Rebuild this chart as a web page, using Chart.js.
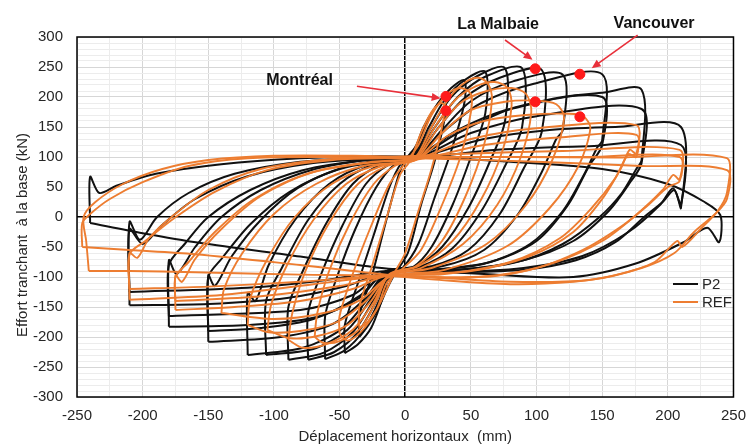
<!DOCTYPE html>
<html>
<head>
<meta charset="utf-8">
<script src="https://cdn.jsdelivr.net/npm/chart.js@4.4.1/dist/chart.umd.min.js"></script>
<style>
html, body { margin: 0; padding: 0; background: #fff; }
</style>
</head>
<body>
<canvas id="myChart" width="756" height="447"></canvas>
<script>
// axes
const X_MIN = -250, X_MAX = 250;
const Y_MIN = -300, Y_MAX = 300;

// P2 loops (black), [x mm, y kN]
const p2Loop30  = [[-35,-200],[-35,-165],[-25,-95],[-15,-10],[-5,70],[0,95],[8,118],[14,150],[22,180],[30,200],[30,165],[22,90],[12,20],[2,-60],[-8,-95],[-14,-120],[-20,-150],[-28,-180],[-35,-200]];
const p2Loop45  = [[-46,-227],[-46,-180],[-36,-110],[-24,-30],[-12,50],[-3,90],[8,112],[15,150],[25,190],[35,215],[45,228],[45,190],[35,110],[22,30],[10,-45],[-2,-85],[-12,-100],[-18,-140],[-26,-185],[-36,-212],[-46,-227]];
const p2Loop61  = [[-61,-237],[-61,-165],[-52,-100],[-38,-20],[-22,50],[-8,88],[8,108],[18,150],[30,195],[45,228],[61,242],[61,173],[50,100],[36,20],[20,-50],[5,-85],[-12,-95],[-20,-140],[-32,-190],[-46,-222],[-61,-237]];
const p2Loop76  = [[-74,-238],[-74,-160],[-64,-95],[-48,-15],[-30,55],[-12,88],[8,105],[20,150],[35,200],[55,235],[76,248],[76,160],[64,90],[48,15],[28,-50],[8,-82],[-12,-92],[-22,-140],[-36,-192],[-54,-225],[-74,-238]];
const p2Loop89  = [[-89,-238],[-89,-150],[-78,-90],[-60,-10],[-40,55],[-18,88],[8,103],[22,148],[40,200],[62,235],[89,248],[89,150],[76,85],[58,10],[36,-52],[12,-82],[-12,-90],[-24,-138],[-40,-192],[-62,-226],[-89,-238]];
const p2Loop104 = [[-106,-230],[-106,-140],[-94,-85],[-74,-5],[-50,55],[-24,88],[8,102],[25,148],[45,198],[72,232],[104,245],[104,142],[90,80],[72,5],[48,-55],[20,-82],[-12,-90],[-26,-136],[-44,-188],[-70,-220],[-106,-230]];
const p2Loop120 = [[-120,-230],[-120,-127],[-114,-140],[-104,-80],[-84,-5],[-58,55],[-28,88],[8,100],[28,145],[50,193],[82,226],[120,237],[120,145],[115,130],[104,75],[86,5],[60,-55],[28,-82],[-12,-90],[-28,-135],[-48,-186],[-78,-218],[-120,-230]];
const p2Loop150 = [[-150,-208],[-150,-97],[-145,-115],[-132,-65],[-110,-5],[-82,48],[-48,82],[-14,97],[10,105],[32,148],[58,190],[98,222],[150,238],[150,128],[146,115],[136,70],[120,10],[95,-45],[60,-78],[20,-88],[-14,-92],[-30,-135],[-55,-178],[-95,-200],[-150,-208]];
const p2Loop150b = [[-150,-190],[-150,-100],[-140,-70],[-118,-12],[-88,42],[-50,80],[-12,95],[12,105],[40,145],[80,180],[150,200],[150,120],[140,85],[124,20],[100,-40],[65,-75],[20,-88],[-14,-90],[-35,-132],[-70,-170],[-110,-185],[-150,-190]];
const p2Loop180 = [[-180,-183],[-180,-72],[-174,-95],[-160,-50],[-140,0],[-110,45],[-72,78],[-30,95],[10,102],[40,140],[80,180],[120,200],[150,207],[180,212],[180,95],[176,80],[165,40],[148,0],[120,-45],[85,-75],[40,-88],[-14,-90],[-35,-135],[-70,-168],[-120,-180],[-180,-183]];
const p2Loop180b = [[-180,-165],[-180,-80],[-168,-45],[-150,0],[-118,45],[-78,78],[-30,95],[10,100],[50,140],[100,168],[180,180],[180,90],[172,60],[155,10],[128,-40],[90,-72],[40,-88],[-14,-90],[-40,-130],[-80,-155],[-180,-165]];
const p2Loop210 = [[-210,-147],[-210,-8],[-202,-38],[-189,0],[-165,40],[-130,72],[-80,92],[-30,98],[10,100],[60,130],[110,145],[160,150],[210,150],[210,15],[205,45],[196,25],[182,0],[160,-42],[130,-72],[90,-88],[40,-92],[-14,-92],[-45,-115],[-90,-135],[-150,-145],[-210,-147]];
const p2Loop210b = [[-210,-125],[-210,-20],[-200,-45],[-186,-15],[-160,30],[-120,68],[-70,90],[-20,97],[10,98],[70,112],[140,118],[210,120],[210,20],[204,48],[194,20],[170,-25],[135,-65],[90,-85],[30,-92],[-14,-90],[-60,-105],[-120,-118],[-210,-125]];
const p2Loop240 = [[-240,-10],[-240,67],[-233,40],[-220,52],[-190,72],[-140,88],[-80,98],[-30,101],[10,100],[80,92],[150,80],[200,55],[228,25],[240,3],[239,-42],[230,-18],[212,-42],[175,-78],[128,-100],[60,-95],[0,-88],[-22,-84],[-80,-66],[-157,-43],[-200,-27],[-240,-10]];

// REF loops (orange)
const refLoop30  = [[-35,-185],[-35,-150],[-25,-80],[-14,0],[-4,70],[4,95],[12,140],[20,175],[27,190],[30,185],[28,150],[20,80],[10,10],[0,-60],[-8,-92],[-14,-120],[-22,-155],[-30,-178],[-35,-185]];
const refLoop50  = [[-50,-195],[-50,-165],[-40,-95],[-26,-15],[-12,55],[0,90],[10,120],[20,170],[32,205],[42,215],[50,205],[50,175],[42,100],[28,20],[12,-55],[-4,-90],[-14,-110],[-22,-155],[-34,-192],[-44,-206],[-50,-195]];
const refLoop65  = [[-69,-200],[-67,-160],[-58,-90],[-42,-10],[-24,55],[-8,85],[8,100],[20,150],[34,200],[46,225],[56,232],[63,222],[66,195],[60,120],[46,35],[28,-40],[8,-82],[-12,-95],[-22,-140],[-34,-185],[-50,-207],[-62,-210],[-69,-200]];
const refLoop80  = [[-89,-205],[-86,-160],[-76,-90],[-58,-10],[-36,55],[-14,85],[8,98],[22,148],[38,195],[54,218],[68,225],[78,215],[81,185],[74,110],[58,30],[36,-40],[10,-82],[-12,-96],[-24,-142],[-40,-188],[-60,-212],[-78,-218],[-89,-205]];
const refLoop95  = [[-105,-188],[-102,-145],[-90,-80],[-70,-5],[-45,55],[-18,85],[8,96],[24,145],[42,190],[62,210],[81,215],[92,205],[96,175],[88,100],[70,20],[44,-45],[12,-85],[-12,-97],[-26,-140],[-44,-180],[-66,-198],[-88,-202],[-105,-188]];
const refLoop120 = [[-120,-180],[-118,-135],[-105,-70],[-84,0],[-56,55],[-24,85],[8,95],[28,140],[50,178],[76,192],[99,194],[115,188],[121,165],[112,95],[92,20],[62,-45],[20,-85],[-12,-98],[-30,-140],[-52,-175],[-80,-190],[-104,-192],[-120,-180]];
const refLoop140 = [[-140,-160],[-138,-120],[-124,-60],[-100,5],[-68,55],[-32,85],[8,95],[32,135],[60,160],[92,170],[125,172],[136,167],[141,148],[132,85],[110,15],[78,-48],[30,-88],[-12,-100],[-34,-138],[-62,-160],[-100,-170],[-140,-160]];
const refLoop176 = [[-175,-155],[-175,-97],[-170,-108],[-160,-70],[-140,-20],[-110,35],[-70,75],[-25,92],[10,98],[50,130],[100,148],[176,153],[176,105],[171,112],[164,80],[150,30],[128,-25],[95,-65],[50,-90],[-14,-98],[-40,-120],[-80,-140],[-130,-150],[-175,-155]];
const refLoop176b = [[-175,-140],[-175,-100],[-165,-75],[-145,-25],[-115,30],[-75,72],[-30,90],[10,96],[60,120],[120,133],[176,137],[176,100],[170,105],[160,65],[142,15],[118,-35],[80,-75],[30,-95],[-14,-98],[-50,-115],[-110,-132],[-175,-140]];
const refLoop209 = [[-210,-138],[-210,-60],[-204,-68],[-195,-35],[-178,0],[-150,45],[-110,80],[-60,96],[-10,100],[40,105],[120,110],[209,112],[209,62],[204,70],[196,45],[174,0],[150,-40],[115,-75],[70,-98],[20,-100],[-14,-98],[-70,-112],[-140,-130],[-210,-138]];
const refLoop209b = [[-210,-120],[-210,-62],[-198,-40],[-176,-2],[-145,42],[-105,78],[-55,95],[0,98],[60,100],[140,100],[209,100],[209,60],[200,50],[185,20],[165,-15],[135,-55],[95,-88],[40,-102],[-14,-98],[-80,-108],[-150,-116],[-210,-120]];
const refLoop245 = [[-241,-90],[-243,-40],[-245,0],[-236,25],[-215,55],[-185,80],[-150,95],[-100,102],[-40,102],[10,100],[80,100],[160,99],[245,98],[245,40],[238,10],[225,-20],[211,-50],[207,-40],[190,-75],[160,-97],[128,-108],[80,-112],[20,-104],[-14,-98],[-80,-96],[-160,-92],[-210,-90],[-241,-90]];
const refLoop245b = [[-246,-50],[-246,-10],[-240,5],[-225,30],[-200,58],[-165,85],[-120,98],[-60,100],[10,98],[100,92],[180,85],[245,78],[245,30],[236,5],[220,-25],[205,-60],[180,-85],[140,-105],[80,-108],[20,-100],[-14,-96],[-80,-80],[-160,-62],[-210,-55],[-246,-50]];

// points marked in red
const markX = [31, 31, 99, 99, 133, 133];
const markY = [201, 177, 247, 192, 238, 167];

const p2Loops  = [p2Loop30, p2Loop45, p2Loop61, p2Loop76, p2Loop89, p2Loop104, p2Loop120, p2Loop150, p2Loop150b, p2Loop180, p2Loop180b, p2Loop210, p2Loop210b, p2Loop240];
const refLoops = [refLoop30, refLoop50, refLoop65, refLoop80, refLoop95, refLoop120, refLoop140, refLoop176, refLoop176b, refLoop209, refLoop209b, refLoop245, refLoop245b];

const BLACK  = '#111111';
const ORANGE = '#ED7D31';
const RED    = '#FF1A1A';

function toPoints(arr){
    return arr.map(p => ({x: p[0], y: p[1]}));
}

let datasets = [];
datasets.push({
    label: 'marks',
    data: markX.map((x, i) => ({x: x, y: markY[i]})),
    showLine: false,
    pointRadius: 5,
    pointBackgroundColor: RED,
    pointBorderColor: RED,
    order: 0
});
refLoops.forEach((loop, i) => {
    datasets.push({
        label: i === 0 ? 'REF' : '',
        data: toPoints(loop),
        showLine: true,
        borderColor: ORANGE,
        borderWidth: 1.9,
        pointRadius: 0,
        tension: 0.3,
        order: 1
    });
});
p2Loops.forEach((loop, i) => {
    datasets.push({
        label: i === 0 ? 'P2' : '',
        data: toPoints(loop),
        showLine: true,
        borderColor: BLACK,
        borderWidth: 2,
        pointRadius: 0,
        tension: 0.3,
        order: 2
    });
});

// annotations, legend, frame
const extras = {
    id: 'extras',
    beforeDatasetsDraw(chart){
        const {ctx, chartArea: a} = chart;
        ctx.save();
        ctx.strokeStyle = '#000';
        ctx.lineWidth = 1.5;
        ctx.strokeRect(a.left, a.top, a.right - a.left, a.bottom - a.top);
        ctx.restore();
    },
    afterDraw(chart){
        const {ctx} = chart;
        const xs = chart.scales.x, ys = chart.scales.y;
        const px = v => xs.getPixelForValue(v);
        const py = v => ys.getPixelForValue(v);
        ctx.save();

        // y title
        ctx.fillStyle = '#262626';
        ctx.font = '15px "Liberation Sans", Arial, sans-serif';
        ctx.translate(23, 235);
        ctx.rotate(-Math.PI / 2);
        ctx.textAlign = 'center';
        ctx.textBaseline = 'middle';
        ctx.fillText('Effort tranchant  à la base (kN)', 0, 0);
        ctx.setTransform(1, 0, 0, 1, 0, 0);

        // legend
        ctx.lineWidth = 2;
        ctx.strokeStyle = BLACK;
        ctx.beginPath(); ctx.moveTo(673, 284); ctx.lineTo(698, 284); ctx.stroke();
        ctx.strokeStyle = ORANGE;
        ctx.beginPath(); ctx.moveTo(673, 302); ctx.lineTo(698, 302); ctx.stroke();
        ctx.fillStyle = '#262626';
        ctx.textAlign = 'left';
        ctx.textBaseline = 'middle';
        ctx.font = '15px "Liberation Sans", Arial, sans-serif';
        ctx.fillText('P2', 702, 285);
        ctx.fillText('REF', 702, 303);

        // labels
        ctx.fillStyle = '#111';
        ctx.font = 'bold 16px "Liberation Sans", Arial, sans-serif';
        ctx.textAlign = 'center';
        ctx.fillText('Montréal', px(-80.5), py(228));
        ctx.fillText('La Malbaie', px(70.7), py(320));
        ctx.fillText('Vancouver', px(189.5), py(322));

        // arrows
        function arrow(x1, y1, x2, y2){
            const a1 = px(x1), b1 = py(y1), a2 = px(x2), b2 = py(y2);
            const ang = Math.atan2(b2 - b1, a2 - a1);
            ctx.strokeStyle = '#E8303A';
            ctx.fillStyle = '#E8303A';
            ctx.lineWidth = 1.6;
            ctx.beginPath();
            ctx.moveTo(a1, b1);
            ctx.lineTo(a2 - 6 * Math.cos(ang), b2 - 6 * Math.sin(ang));
            ctx.stroke();
            ctx.beginPath();
            ctx.moveTo(a2, b2);
            ctx.lineTo(a2 - 9 * Math.cos(ang) + 4 * Math.sin(ang), b2 - 9 * Math.sin(ang) - 4 * Math.cos(ang));
            ctx.lineTo(a2 - 9 * Math.cos(ang) - 4 * Math.sin(ang), b2 - 9 * Math.sin(ang) + 4 * Math.cos(ang));
            ctx.closePath();
            ctx.fill();
        }
        arrow(-36.8, 218, 27, 198);
        arrow(76, 295, 97, 262);
        arrow(177, 303, 142, 248);

        ctx.restore();
    }
};

const myChart = document.getElementById('myChart');
const hystChart = new Chart(myChart, {
    type: 'scatter',
    data: { datasets: datasets },
    plugins: [extras],
    options: {
        responsive: false,
        animation: false,
        events: [],
        layout: { padding: { left: 0, right: 14, top: 37, bottom: 0 } },
        plugins: {
            legend: { display: false },
            tooltip: { enabled: false }
        },
        scales: {
            x: {
                type: 'linear',
                min: X_MIN,
                max: X_MAX,
                afterFit: s => { s.height = 50; },
                afterBuildTicks: s => {
                    let t = [];
                    for (let v = X_MIN; v <= X_MAX; v += 25) t.push({value: v});
                    s.ticks = t;
                },
                ticks: {
                    autoSkip: false,
                    maxRotation: 0,
                    padding: 10,
                    color: '#262626',
                    font: { size: 15, family: '"Liberation Sans", Arial, sans-serif' },
                    callback: v => (v % 50 === 0 ? String(v) : '')
                },
                grid: {
                    drawTicks: false,
                    color: c => (c.tick.value === 0 ? '#000' : (c.tick.value % 50 === 0 ? '#d6d6d6' : '#ececec')),
                    lineWidth: c => (c.tick.value === 0 ? 1.5 : 1)
                },
                border: { display: false },
                title: {
                    display: true,
                    text: 'Déplacement horizontaux  (mm)',
                    color: '#262626',
                    font: { size: 15, family: '"Liberation Sans", Arial, sans-serif' },
                    padding: { top: 0, bottom: 1 }
                }
            },
            y: {
                type: 'linear',
                min: Y_MIN,
                max: Y_MAX,
                afterFit: s => { s.width = 77; },
                afterBuildTicks: s => {
                    let t = [];
                    for (let v = Y_MIN; v <= Y_MAX; v += 10) t.push({value: v});
                    s.ticks = t;
                },
                ticks: {
                    autoSkip: false,
                    padding: 14,
                    color: '#262626',
                    font: { size: 15, family: '"Liberation Sans", Arial, sans-serif' },
                    callback: v => (v % 50 === 0 ? String(v) : '')
                },
                grid: {
                    drawTicks: false,
                    color: c => (c.tick.value === 0 ? '#000' : (c.tick.value % 50 === 0 ? '#d6d6d6' : '#ececec')),
                    lineWidth: c => (c.tick.value === 0 ? 1.5 : 1)
                },
                border: { display: false }
            }
        }
    }
});
</script>
</body>
</html>
